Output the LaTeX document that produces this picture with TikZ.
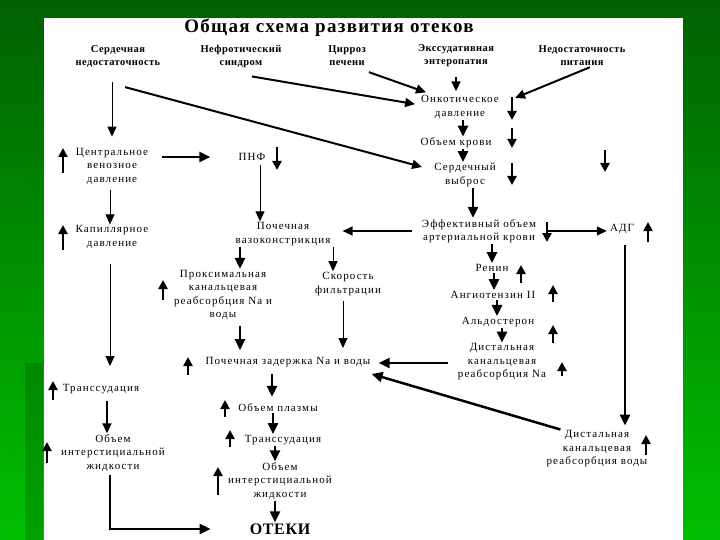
\documentclass[tikz,border=0pt]{standalone}
\usepackage{fontspec}
\setmainfont{Liberation Serif}
\newfontfamily\spaced[LetterSpace=10]{Liberation Serif}
\newfontfamily\spacedhead[LetterSpace=4]{Liberation Serif}
\newfontfamily\spacedtitle[LetterSpace=7]{Liberation Serif}
\usetikzlibrary{arrows.meta,calc}

\begin{document}
\begin{tikzpicture}[x=1pt,y=-1pt]
  \tikzset{
    lbl/.style={font=\spaced\fontsize{11}{13.5}\selectfont,align=center,inner sep=1pt},
    head/.style={font=\spacedhead\bfseries\fontsize{10.5}{13}\selectfont,align=center,inner sep=1pt},
    arr/.style={-{Triangle[length=10pt,width=9pt]},line width=1.4pt},
    thinarr/.style={arr,line width=1pt},
    fatarr/.style={-{Triangle[length=11pt,width=10pt]},line width=2.5pt},
    ind/.style={-{Triangle[length=9pt,width=9pt]},line width=2.3pt}
  }
  % background and slide panel
  \shade[top color=green!38!black,bottom color=green!75!black] (0,0) rectangle (720,540);
  \fill[black,opacity=.15] (25,363) rectangle (43,540);
  \fill[white] (44,18) rectangle (683,540);
  \useasboundingbox (0,0) rectangle (720,540);

  \node[font=\spacedtitle\bfseries\fontsize{19}{22}\selectfont,inner sep=1pt] (title) at (329,28) {Общая схема развития отеков};

  % causes
  \node[head] (sn) at (118,56) {Сердечная\\недостаточность};
  \node[head] (ns) at (241,56) {Нефротический\\синдром};
  \node[head] (cp) at (347,56) {Цирроз\\печени};
  \node[head] (ee) at (456,56) {Экссудативная\\энтеропатия};
  \node[head] (np) at (582,56) {Недостаточность\\питания};

  % right chain
  \node[lbl] (onk) at (460,107) {Онкотическое\\давление};
  \node[lbl] (okr) at (456,143) {Объем крови};
  \node[lbl] (sv) at (465,175) {Сердечный\\выброс};
  \node[lbl] (eoak) at (479,231) {Эффективный объем\\артериальной крови};
  \node[lbl] (adg) at (622,229) {АДГ};
  \node[lbl] (ren) at (492,268) {Ренин};
  \node[lbl] (ang) at (493,295) {Ангиотензин II};
  \node[lbl] (ald) at (498,322) {Альдостерон};
  \node[lbl] (dkrna) at (502,362) {Дистальная\\канальцевая\\реабсорбция Na};
  \node[lbl] (dkrv) at (597,449) {Дистальная\\канальцевая\\реабсорбция воды};

  % left chain
  \node[lbl] (cvd) at (112,166) {Центральное\\венозное\\давление};
  \node[lbl] (kd) at (112,237) {Капиллярное\\давление};
  \node[lbl] (trl) at (101,389) {Транссудация};
  \node[lbl] (oijl) at (113,453) {Объем\\интерстициальной\\жидкости};

  % middle chain
  \node[lbl] (pnf) at (252,157) {ПНФ};
  \node[lbl] (pvk) at (283,234) {Почечная\\вазоконстрикция};
  \node[lbl] (pkr) at (223,295) {Проксимальная\\канальцевая\\реабсорбция Na и\\воды};
  \node[lbl] (sf) at (348,284) {Скорость\\фильтрации};
  \node[lbl] (pz) at (288,362) {Почечная задержка Na и воды};
  \node[lbl] (op) at (278,408) {Объем плазмы};
  \node[lbl] (trc) at (283,440) {Транссудация};
  \node[lbl] (oijc) at (280,481) {Объем\\интерстициальной\\жидкости};
  \node[font=\spacedhead\bfseries\fontsize{16}{18}\selectfont,inner sep=1pt] (oteki) at (280,529) {ОТЕКИ};

  % from the causes
  \draw[arr,line width=1.8pt,shorten <=9pt,shorten >=3pt] (ee.south) -- (ee.south |- onk.north);
  \draw[arr,line width=2pt] ([xshift=2pt,yshift=-5pt]cp.south east) -- ([xshift=6pt,yshift=2pt]onk.north west);
  \draw[arr,line width=2pt,shorten >=5pt] ([xshift=11pt,yshift=-8pt]ns.south) -- ([yshift=2pt]onk.west);
  \draw[arr,line width=2pt] ([xshift=8pt]np.south) -- ([xshift=15pt,yshift=9pt]onk.east);
  \draw[arr,line width=2pt] ([xshift=7pt,yshift=-19pt]sn.south) -- ([xshift=-11pt,yshift=8pt]sv.west);
  \draw[thinarr,shorten <=14pt,shorten >=10pt] (sn.south -| cvd.north) -- (cvd.north);

  % left
  \draw[thinarr,shorten <=5pt] ([xshift=-2pt]cvd.south) -- ([xshift=-2pt]cvd.south |- kd.north);
  \draw[thinarr,shorten <=14pt,shorten >=17pt] ([xshift=-2pt]kd.south) -- ([xshift=-2pt]kd.south |- trl.north);
  \draw[arr,line width=1.8pt,shorten <=6pt] ([xshift=6pt]trl.south) -- ([xshift=6pt]trl.south |- oijl.north);
  \draw[fatarr,shorten <=2pt,shorten >=38pt] ([xshift=-3pt]oijl.south) |- (oteki.west);
  \draw[fatarr,shorten <=13pt,shorten >=27pt] ([yshift=9pt]cvd.east) -- ([yshift=9pt]cvd.east -| pnf.west);

  % middle
  \draw[thinarr,shorten <=3pt] ([xshift=8pt]pnf.south) -- ([xshift=8pt]pnf.south |- pvk.north);
  \draw[fatarr] ([xshift=-43pt]pvk.south) -- ([xshift=-43pt]pvk.south |- pkr.north);
  \draw[thinarr] ([xshift=50pt]pvk.south) -- ([xshift=50pt]pvk.south |- sf.north);
  \draw[fatarr,shorten <=5pt,shorten >=6pt] ([xshift=17pt]pkr.south) -- ([xshift=17pt]pkr.south |- pz.north);
  \draw[thinarr,shorten <=4pt,shorten >=8pt] ([xshift=-5pt]sf.south) -- ([xshift=-5pt]sf.south |- pz.north);
  \draw[fatarr,shorten <=6pt,shorten >=6pt] ([xshift=-16pt]pz.south) -- ([xshift=-16pt]pz.south |- op.north);
  \draw[fatarr] ([xshift=-5pt]op.south) -- ([xshift=-5pt]op.south |- trc.north);
  \draw[fatarr] ([xshift=-8pt]trc.south) -- ([xshift=-8pt]trc.south |- oijc.north);
  \draw[fatarr] ([xshift=-5pt]oijc.south) -- ([xshift=-5pt]oijc.south |- oteki.north);

  % right
  \draw[fatarr] ([xshift=3pt]onk.south) -- ([xshift=3pt]onk.south |- okr.north);
  \draw[fatarr] ([xshift=7pt]okr.south) -- ([xshift=7pt]okr.south |- sv.north);
  \draw[fatarr] ([xshift=8pt]sv.south) -- ([xshift=8pt]sv.south |- eoak.north);
  \draw[arr,shorten >=12pt] ([xshift=10pt]eoak.east) -- ([xshift=10pt]eoak.east -| adg.west);
  \draw[arr,shorten <=9pt,shorten >=11pt] (eoak.west) -- (eoak.west -| pvk.east);
  \draw[fatarr] ([xshift=13pt]eoak.south) -- ([xshift=13pt]eoak.south |- ren.north);
  \draw[fatarr] ([xshift=2pt]ren.south) -- ([xshift=2pt]ren.south |- ang.north);
  \draw[fatarr] ([xshift=4pt]ang.south) -- ([xshift=4pt]ang.south |- ald.north);
  \draw[fatarr] ([xshift=4pt]ald.south) -- ([xshift=4pt]ald.south |- dkrna.north);
  \draw[fatarr,shorten <=9pt,shorten >=7pt] ([yshift=-1pt]dkrna.west) -- ([yshift=-1pt]dkrna.west -| pz.east);
  \draw[fatarr] ([xshift=15pt]dkrv.north west) -- ([yshift=-6pt]pz.south east);
  \draw[fatarr,line width=2.8pt,shorten <=10pt,shorten >=4pt] ([xshift=3pt]adg.south) -- ([xshift=3pt]adg.south |- dkrv.north);

  % up and down marks
  \draw[ind] (512,97) -- (512,120);
  \draw[ind] (512,128) -- (512,148);
  \draw[ind] (512,163) -- (512,185);
  \draw[ind] (605,150) -- (605,172);
  \draw[ind] (547,222) -- (547,242);
  \draw[ind] (648,242) -- (648,222);
  \draw[ind] (521,283) -- (521,265);
  \draw[ind] (553,302) -- (553,285);
  \draw[ind] (553,343) -- (553,325);
  \draw[ind] (562,376) -- (562,362);
  \draw[ind] (646,455) -- (646,435);
  \draw[ind] (63,173) -- (63,148);
  \draw[ind] (63,250) -- (63,225);
  \draw[ind] (53,400) -- (53,381);
  \draw[ind] (47,463) -- (47,442);
  \draw[ind] (277,147) -- (277,170);
  \draw[ind] (163,300) -- (163,280);
  \draw[ind] (188,375) -- (188,357);
  \draw[ind] (225,417) -- (225,400);
  \draw[ind] (230,447) -- (230,430);
  \draw[ind] (218,495) -- (218,467);
\end{tikzpicture}
\end{document}
